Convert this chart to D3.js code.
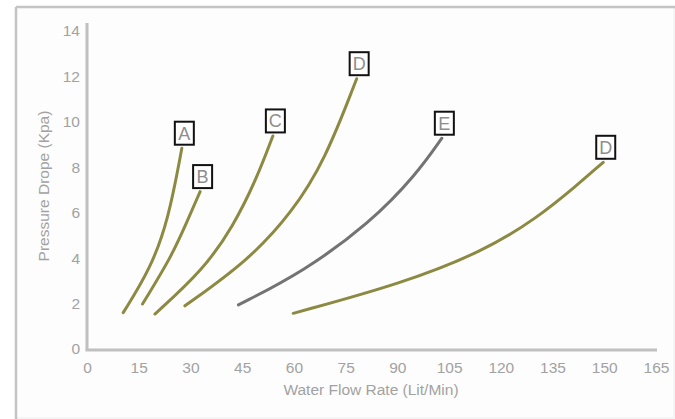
<!DOCTYPE html>
<html><head><meta charset="utf-8">
<script src="https://cdn.jsdelivr.net/npm/d3@7"></script>
<style>body{margin:0;background:#fff}svg{display:block}text{font-family:"Liberation Sans",Arial,sans-serif}</style>
</head><body>
<svg id="c" width="675" height="419"></svg>
<script>
const xTicks = [0,15,30,45,60,75,90,105,120,135,150,165];
const yTicks = [0,2,4,6,8,10,12,14];
const seriesNames = ["A","B","C","D","E","D"];
const seriesColors = ["#8c8a42","#8c8a42","#8c8a42","#8c8a42","#737373","#8c8a42"];
const flowA = [10.5, 18.3, 23.6, 27.5];
const dropA = [1.6, 3.5, 5.68, 8.84];
const flowB = [16.1, 24.6, 28.7, 32.8];
const dropB = [1.98, 4.1, 5.5, 6.93];
const flowC = [19.7, 33.7, 42.4, 49.2, 53.9];
const dropC = [1.54, 3.48, 5.4, 7.5, 9.38];
const flowD1 = [28.4, 46.8, 59.4, 69.0, 78.2];
const dropD1 = [1.9, 3.9, 6.0, 8.3, 11.9];
const flowE = [43.9, 62.7, 82.1, 95.6, 102.9];
const dropE = [1.94, 3.4, 5.55, 7.7, 9.28];
const flowD2 = [59.8, 91.7, 114.9, 130.4, 142.0, 149.7];
const dropD2 = [1.57, 2.9, 4.3, 5.75, 7.2, 8.22];
const flows = [flowA, flowB, flowC, flowD1, flowE, flowD2];
const drops = [dropA, dropB, dropC, dropD1, dropE, dropD2];

const svg = d3.select("#c");
// outer frame
svg.append("rect").attr("x",16).attr("y",7).attr("width",658).attr("height",411)
  .attr("fill","#fdfdfd").attr("stroke","#ececec").attr("stroke-width",1);
svg.append("line").attr("x1",16).attr("x2",675).attr("y1",7).attr("y2",7).attr("stroke","#c4c4c4").attr("stroke-width",2.5);
svg.append("line").attr("x1",16).attr("x2",16).attr("y1",7).attr("y2",419).attr("stroke","#c4c4c4").attr("stroke-width",2.5);

const x = d3.scaleLinear().domain([0,165]).range([87,656]);
const y = d3.scaleLinear().domain([0,14]).range([349,31]);

// axis lines
svg.append("line").attr("x1",x(0)).attr("x2",x(0)).attr("y1",y(0)+1).attr("y2",y(14)-8)
  .attr("stroke","#c0c0c0").attr("stroke-width",3);
svg.append("line").attr("x1",x(0)-1.5).attr("x2",x(165)+1).attr("y1",y(0)+1).attr("y2",y(0)+1)
  .attr("stroke","#c0c0c0").attr("stroke-width",3);

const tc = "#a2a2a2";
// ticks
const xAxis = d3.axisBottom(x).tickValues(xTicks).tickSize(0).tickPadding(0);
const gx = svg.append("g").attr("transform","translate(0,362)").call(xAxis);
gx.select(".domain").remove();
gx.selectAll("text").attr("fill",tc).attr("font-size",15.5).attr("dy","0.71em")
  .attr("font-family","Liberation Sans, Arial, sans-serif");

const yAxis = d3.axisLeft(y).tickValues(yTicks).tickSize(0).tickPadding(0);
const gy = svg.append("g").attr("transform","translate(80,0)").call(yAxis);
gy.select(".domain").remove();
gy.selectAll("text").attr("fill",tc).attr("font-size",15.5)
  .attr("font-family","Liberation Sans, Arial, sans-serif");

// titles
svg.append("text").attr("x",371).attr("y",395).attr("text-anchor","middle")
  .attr("font-size",15.5).attr("fill",tc).text("Water Flow Rate (Lit/Min)");
svg.append("text").attr("transform","translate(49,186) rotate(-90)").attr("text-anchor","middle")
  .attr("font-size",15.5).attr("fill",tc).text("Pressure Drope (Kpa)");

// curves
const line = d3.line().x(d=>x(d[0])).y(d=>y(d[1])).curve(d3.curveBasis);
flows.forEach((f,i)=>{
  const pts = f.map((v,j)=>[v, drops[i][j]]);
  svg.append("path").attr("d",line(pts)).attr("fill","none")
    .attr("stroke",seriesColors[i]).attr("stroke-width",3).attr("stroke-linecap","round");
  const last = pts[pts.length-1];
  const cx = x(last[0])+2.5, cy = y(last[1])-15;
  const g = svg.append("g").attr("transform",`translate(${cx},${cy})`);
  g.append("rect").attr("x",-9.5).attr("y",-11.5).attr("width",19).attr("height",23)
    .attr("fill","#fff").attr("stroke","#111").attr("stroke-width",2);
  g.append("text").attr("text-anchor","middle").attr("dy","0.36em").attr("font-size",18)
    .attr("fill","#8e8e8e").text(seriesNames[i]);
});
</script>
</body></html>
